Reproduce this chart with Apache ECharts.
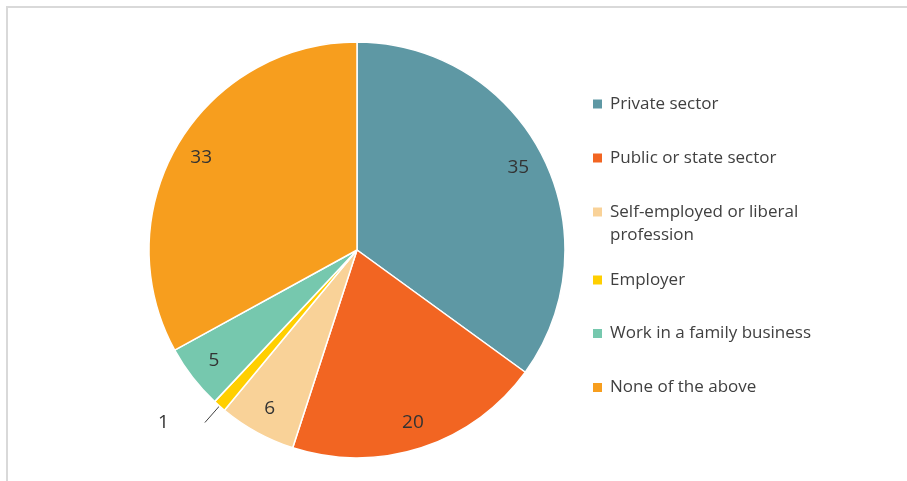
<!DOCTYPE html>
<html>
<head>
<meta charset="utf-8">
<script src="https://cdn.jsdelivr.net/npm/echarts@6/dist/echarts.min.js"></script>
<style>
html,body{margin:0;padding:0;background:#fff;}
#chart{width:907px;height:481px;}
</style>
</head>
<body>
<div id="chart"></div>
<script>
var categories = ['Private sector', 'Public or state sector', 'Self-employed or liberal\nprofession', 'Employer', 'Work in a family business', 'None of the above'];
var values = [35, 20, 6, 1, 5, 33];
var colors = ['#5E98A4', '#F26522', '#F9D298', '#FFCF00', '#76C8AE', '#F79E1E'];
var legendCenters = [104, 158, 211.5, 280, 333.5, 387.5];

var chart = echarts.init(document.getElementById('chart'));

var mainData = categories.map(function (c, i) {
  return { name: c, value: values[i], itemStyle: { color: colors[i] } };
});
var labelData = categories.map(function (c, i) {
  var d = { name: c, value: values[i] };
  if (i === 3) {
    d.label = { show: true, position: 'outside', distanceToLabelLine: 36 };
    d.labelLine = { show: true, length: 24, length2: 0, lineStyle: { color: '#404040', width: 1 } };
  }
  return d;
});

var legends = categories.map(function (c, i) {
  var twoLine = c.indexOf('\n') >= 0;
  return {
    orient: 'vertical',
    left: 593,
    top: twoLine ? legendCenters[i] - 4.5 - 29.5 : legendCenters[i] - 4.5 - 6,
    padding: 0,
    icon: 'rect',
    itemWidth: 9,
    itemHeight: 9,
    itemStyle: { borderWidth: 0 },
    selectedMode: false,
    data: [c],
    formatter: function (name) { return name.indexOf('\n') >= 0 ? ' \n' + name : name; },
    textStyle: {
      color: '#404040',
      fontFamily: 'Open Sans',
      fontSize: 17,
      lineHeight: twoLine ? 23 : 21,
      padding: [0, 0, 0, 3]
    }
  };
});

chart.setOption({
  animation: false,
  backgroundColor: '#fff',
  graphic: [{
    type: 'rect',
    shape: { x: 7, y: 7, width: 1000, height: 1000 },
    style: { fill: 'none', stroke: '#D9D9D9', lineWidth: 2 },
    silent: true
  }],
  legend: legends,
  series: [{
    type: 'pie',
    center: [357, 250],
    radius: [0, 208],
    startAngle: 90,
    clockwise: true,
    avoidLabelOverlap: false,
    label: { show: false },
    labelLine: { show: false },
    itemStyle: { borderColor: '#fff', borderWidth: 1.5 },
    emphasis: { disabled: true },
    data: mainData
  }, {
    type: 'pie',
    center: [357, 250],
    radius: [150, 206],
    startAngle: 90,
    clockwise: true,
    silent: true,
    avoidLabelOverlap: false,
    itemStyle: { color: 'rgba(0,0,0,0)', borderWidth: 0 },
    label: {
      show: true,
      position: 'inside',
      formatter: '{c}',
      color: '#333333',
      fontFamily: 'Open Sans',
      fontSize: 19
    },
    labelLine: { show: false },
    emphasis: { disabled: true },
    data: labelData
  }]
});
</script>
</body>
</html>
